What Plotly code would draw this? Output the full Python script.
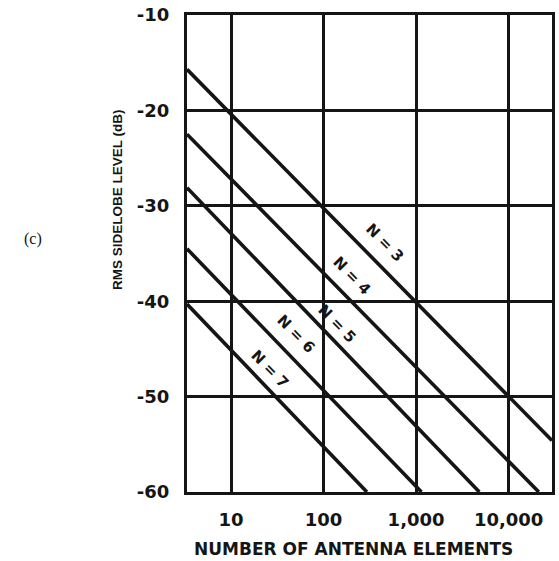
import numpy as np
import plotly.graph_objects as go

# Quantization bits for each curve
bits = [3, 4, 5, 6, 7]
# Endpoints of each straight line: number of elements and RMS sidelobe level (dB)
start_elements = [3.34, 3.34, 3.34, 3.34, 3.34]
start_level = [-15.7, -22.5, -28.1, -34.5, -40.3]
end_elements = [29400, 21200, 4830, 1143, 294]
end_level = [-54.6, -60.0, -60.0, -60.0, -60.0]

x_tick_vals = [10, 100, 1000, 10000]
x_tick_text = ["10", "100", "1,000", "10,000"]
y_tick_vals = [-10, -20, -30, -40, -50, -60]
y_tick_text = ["-10", "-20", "-30", "-40", "-50", "-60"]

INK = "#151515"
SANS = "DejaVu Sans"

fig = go.Figure()
for n, x0, y0, x1, y1 in zip(bits, start_elements, start_level, end_elements, end_level):
    fig.add_trace(go.Scatter(
        x=[x0, x1], y=[y0, y1], mode="lines",
        line=dict(color=INK, width=3.6),
        name=f"N={n}", showlegend=False, hoverinfo="skip",
    ))

# Curve labels, rotated along the lines (x given in log10 units)
label_pos = {3: (2.666, -33.85), 4: (2.309, -37.33), 5: (2.148, -42.38),
             6: (1.702, -43.43), 7: (1.416, -47.1)}
for n in bits:
    lx, ly = label_pos[n]
    fig.add_annotation(
        x=lx, y=ly, xref="x", yref="y", text=f"N = {n}", showarrow=False,
        textangle=45.7, font=dict(family=SANS, size=15, color=INK, weight="bold"),
    )

axis_common = dict(
    showgrid=True, gridcolor=INK, gridwidth=2.6,
    showline=True, linecolor=INK, linewidth=3, mirror=True,
    zeroline=False, ticks="",
    tickfont=dict(family=SANS, size=18, color=INK, weight="bold"),
)

fig.update_xaxes(type="log", range=[0.524, 4.469], tickmode="array",
                 tickvals=x_tick_vals, ticktext=x_tick_text,
                 ticklabelstandoff=9, **axis_common)
fig.update_yaxes(range=[-60, -10], tickmode="array",
                 tickvals=y_tick_vals, ticktext=y_tick_text,
                 ticklabelstandoff=11, **axis_common)

fig.add_annotation(
    x=0.457, y=-0.119, xref="paper", yref="paper",
    text="NUMBER OF ANTENNA ELEMENTS", showarrow=False,
    font=dict(family=SANS, size=17, color=INK, weight="bold"),
    xanchor="center", yanchor="middle",
)
fig.add_annotation(
    x=-0.192, y=0.614, xref="paper", yref="paper",
    text="RMS SIDELOBE LEVEL (dB)", showarrow=False, textangle=-90,
    font=dict(family="Liberation Sans", size=13.5, color=INK, weight="bold"),
    xanchor="center", yanchor="middle",
)
fig.add_annotation(
    x=-0.423, y=0.530, xref="paper", yref="paper",
    text="(c)", showarrow=False,
    font=dict(family="Liberation Serif", size=16, color=INK),
    xanchor="center", yanchor="middle",
)

fig.update_layout(
    width=559, height=561,
    margin=dict(l=187, r=4, t=14, b=69),
    paper_bgcolor="white", plot_bgcolor="white",
)

fig.write_html("out.html")
